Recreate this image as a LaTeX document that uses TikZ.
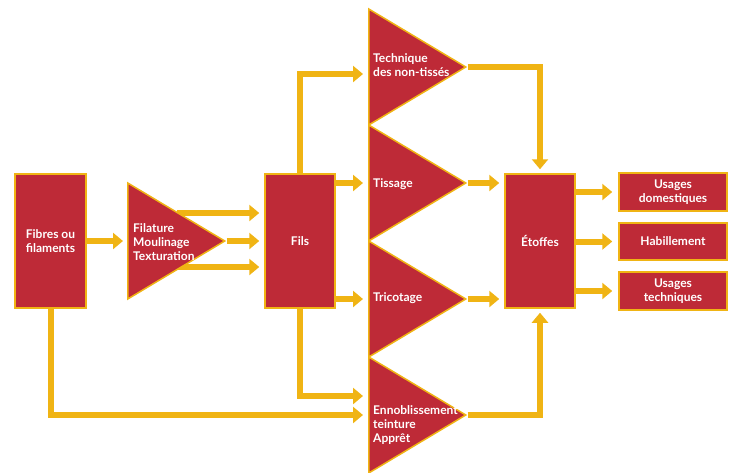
\documentclass[tikz,border=0pt]{standalone}
\usepackage{fontspec}
\setmainfont{Lato}
\usetikzlibrary{arrows.meta,positioning,shapes.geometric,backgrounds}
\definecolor{flred}{HTML}{BE2A37}
\definecolor{flyellow}{HTML}{F0B414}

\begin{document}
\begin{tikzpicture}[x=1pt,y=-1pt,font=\bfseries\fontsize{12}{14}\selectfont,
  box/.style={draw=flyellow,fill=flred,line width=1.5pt,text=white,inner sep=0pt,align=center},
  tri/.style={isosceles triangle,isosceles triangle stretches,draw=flyellow,fill=flred,line width=1.5pt,inner sep=0pt,minimum width=116pt,minimum height=97pt,anchor=west},
  lab/.style={text=white,align=left,anchor=west,inner sep=0pt},
  flow/.style={flyellow,line width=6pt,-{Triangle[length=10pt,width=16pt]}}]
\useasboundingbox (0,0) rectangle (731,472);
% sources
\node[box,align=left,minimum width=71pt,minimum height=134pt] (fib) at (50.5,241) {Fibres ou\\filaments};
\node[tri] (fil) at (127,241) {};
\node[lab] (filt) at (133,242) {Filature\\Moulinage\\Texturation};
\node[box,minimum width=70pt,minimum height=134pt] (fils) at (300,241) {Fils};
% procedes
\node[tri] (tnt) at (368,67) {};
\node[lab] (tntt) at (373,65) {Technique\\des non-tissés};
\node[tri] (tis) at (368,183) {};
\node[lab] (tist) at (373,184) {Tissage};
\node[tri] (tri) at (368,299) {};
\node[lab] (trit) at (373,298) {Tricotage};
\node[tri] (enn) at (368,415) {};
\node[lab] (ennt) at (373,425) {Ennoblissement\\teinture\\Apprêt};
% produits
\node[box,minimum width=70pt,minimum height=134pt] (eto) at (540,241) {Étoffes};
\node[box,minimum width=108pt,minimum height=38pt] (dom) at (673,192) {Usages\\domestiques};
\node[box,minimum width=108pt,minimum height=37pt] (hab) at (673,241.5) {Habillement};
\node[box,minimum width=108pt,minimum height=38pt] (tec) at (673,291) {Usages\\techniques};
% fleches
\begin{scope}[on background layer]
\draw[flow,shorten >=5pt] ([shift={(-50,-28)}]fil.apex) -- (fils.west |- 0,213);
\draw[flow,shorten >=5pt] (fil.apex) -- (fils.west |- fil.apex);
\draw[flow,shorten >=5pt] ([shift={(-50,26)}]fil.apex) -- (fils.west |- 0,267);
\end{scope}
\draw[flow,shorten >=4pt] (fib.east) -- (fil.west);
\draw[flow,shorten >=5pt] (fils.north) |- ([yshift=-7pt]tnt.west);
\draw[flow,shorten >=5pt] (fils.east |- tis.west) -- (tis.west);
\draw[flow,shorten >=5pt] (fils.east |- tri.west) -- (tri.west);
\draw[flow,shorten >=5pt] (fils.south) |- ([yshift=19pt]enn.west);
\draw[flow,shorten >=5pt] (fib.south) |- (enn.west);
\draw[flow,shorten >=4pt] (tnt.apex) -| (eto.north);
\draw[flow,shorten >=5pt] (tis.apex) -- (eto.west |- tis.apex);
\draw[flow,shorten >=5pt] (tri.apex) -- (eto.west |- tri.apex);
\draw[flow,shorten >=4pt] (enn.apex) -| (eto.south);
\draw[flow,shorten >=6pt] (eto.east |- dom) -- (dom.west);
\draw[flow,shorten >=6pt] (eto.east |- hab) -- (hab.west);
\draw[flow,shorten >=6pt] (eto.east |- tec) -- (tec.west);
\end{tikzpicture}
\end{document}
